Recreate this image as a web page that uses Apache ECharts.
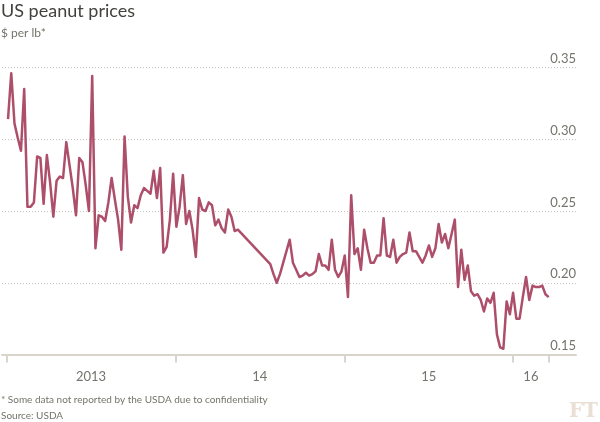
<!DOCTYPE html>
<html>
<head>
<meta charset="utf-8">
<script src="https://cdn.jsdelivr.net/npm/echarts@6/dist/echarts.min.js"></script>
<style>
  html, body { margin: 0; padding: 0; background: #ffffff; }
  #chart { width: 600px; height: 422px; }
</style>
</head>
<body>
<div id="chart"></div>
<script>
// ---- Data ----
const firstWeek = [2013, 0, 4];           // first weekly observation (UTC y, m, d)
// Weekly US peanut prices, $ per lb (null = not reported by the USDA)
const prices = [
  0.314, 0.346, 0.311, 0.301, 0.292, 0.335, 0.253, 0.253, 0.256, 0.288,
  0.287, 0.255, 0.289, 0.270, 0.246, 0.271, 0.274, 0.273, 0.298, 0.282,
  0.266, 0.247, 0.287, 0.284, 0.268, 0.250, 0.344, 0.224, 0.247, 0.246,
  0.243, 0.256, 0.273, 0.258, 0.244, 0.223, 0.302, 0.260, 0.242, 0.254,
  0.252, 0.261, 0.266, 0.264, 0.262, 0.278, 0.259, 0.280, 0.221, 0.225,
  0.244, 0.276, 0.239, 0.253, 0.275, 0.241, 0.250, 0.237, 0.218, 0.259,
  0.251, 0.250, 0.256, 0.254, 0.240, 0.244, 0.238, 0.235, 0.251, 0.246,
  0.236, 0.237, null,  null,  null,  null,  null,  null,  null,  null,
  null,  0.213, 0.206, 0.200, 0.206, 0.214, 0.222, 0.230, 0.214, 0.209,
  0.204, 0.205, 0.207, 0.205, 0.206, 0.208, 0.220, 0.212, 0.212, 0.209,
  0.230, 0.209, 0.204, 0.208, 0.219, 0.190, 0.261, 0.220, 0.224, 0.209,
  0.237, 0.224, 0.214, 0.214, 0.219, 0.219, 0.245, 0.219, 0.218, 0.230,
  0.214, 0.218, 0.220, 0.221, 0.235, 0.222, 0.222, 0.218, 0.214, 0.219,
  0.226, 0.218, 0.224, 0.241, 0.228, 0.234, 0.224, 0.234, 0.244, 0.197,
  0.223, 0.202, 0.212, 0.194, 0.191, 0.192, 0.188, 0.180, 0.189, 0.186,
  0.193, 0.164, 0.155, 0.154, 0.187, 0.178, 0.193, 0.175, 0.175, 0.190,
  0.204, 0.188, 0.198, 0.197, 0.197, 0.198, 0.192, 0.190
];
const yearTicks = ['2013-01-01', '2014-01-01', '2015-01-01', '2016-01-01', '2016-03-18'];
const yearLabels = ['2013', '14', '15', '16'];
const axisStart = '2012-12-22';
const axisEnd = '2016-05-16';
const yTicks = [0.15, 0.20, 0.25, 0.30, 0.35];

// ---- Build ----
const DAY = 86400000;
const ts = s => { const p = s.split('-').map(Number); return Date.UTC(p[0], p[1] - 1, p[2]); };
const start = Date.UTC(firstWeek[0], firstWeek[1], firstWeek[2]);
const seriesData = prices.map((v, i) => [start + i * 7 * DAY, v]);
const tickVals = yearTicks.map(ts);
const labelVals = yearLabels.map((_, i) => (tickVals[i] + tickVals[i + 1]) / 2);

const chart = echarts.init(document.getElementById('chart'), null, { renderer: 'canvas' });
const FONT = 'Lato, "Open Sans", sans-serif';
const grey = '#74736c';
chart.setOption({
  animation: false,
  backgroundColor: '#ffffff',
  title: [
    { text: 'US peanut prices', left: 1, top: 2, padding: 0,
      textStyle: { fontFamily: FONT, fontSize: 18, fontWeight: 'normal', color: '#43423e' } },
    { text: '$ per lb*', left: 1, top: 27, padding: 0,
      textStyle: { fontFamily: FONT, fontSize: 12, fontWeight: 'normal', color: grey } },
    { text: '* Some data not reported by the USDA due to confidentiality', left: 1, top: 395, padding: 0,
      textStyle: { fontFamily: FONT, fontSize: 10, fontWeight: 'normal', color: grey } },
    { text: 'Source: USDA', left: 1, top: 411, padding: 0,
      textStyle: { fontFamily: FONT, fontSize: 10, fontWeight: 'normal', color: grey } },
    { text: 'FT', right: 2, top: 402, padding: 0,
      textStyle: { fontFamily: '"DejaVu Serif", "Liberation Serif", serif', fontSize: 20, fontWeight: 'bold', color: '#e9dfd4' } }
  ],
  grid: { left: 2, right: 24, top: 67.5, bottom: 67.5, containLabel: false },
  xAxis: {
    type: 'value',
    min: ts(axisStart),
    max: ts(axisEnd),
    axisLine: { show: true, lineStyle: { color: '#d9d5cc', width: 2 } },
    axisTick: { show: true, customValues: tickVals, length: 8, lineStyle: { color: '#d9d5cc', width: 2 } },
    axisLabel: {
      customValues: labelVals,
      margin: 16,
      fontFamily: FONT, fontSize: 13, color: grey,
      formatter: v => {
        let best = 0;
        labelVals.forEach((lv, i) => { if (Math.abs(lv - v) < Math.abs(labelVals[best] - v)) best = i; });
        return yearLabels[best];
      }
    },
    splitLine: { show: false }
  },
  yAxis: {
    type: 'value',
    position: 'right',
    min: yTicks[0],
    max: yTicks[yTicks.length - 1],
    interval: 0.05,
    axisLine: { show: false },
    axisTick: { show: false },
    axisLabel: {
      inside: true, margin: 0,
      verticalAlign: 'bottom', padding: [0, 0, 2, 0],
      fontFamily: FONT, fontSize: 13, color: grey,
      formatter: v => v.toFixed(2)
    },
    splitLine: { show: true, showMinLine: false, lineStyle: { color: '#c8c4be', type: [1, 2], width: 1 } }
  },
  series: [{
    type: 'line',
    data: seriesData,
    connectNulls: true,
    showSymbol: false,
    lineStyle: { color: '#ad4f6b', width: 2.5, join: 'round' },
    z: 3
  }]
});
</script>
</body>
</html>
